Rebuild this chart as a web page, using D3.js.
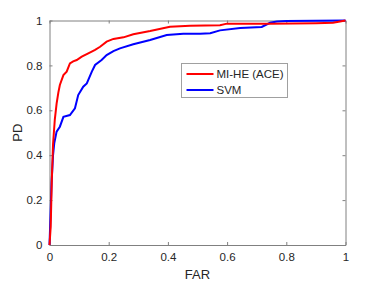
<!DOCTYPE html>
<html>
<head>
  <meta charset="utf-8">
  <script src="https://d3js.org/d3.v7.min.js"></script>
  <style>
    body { margin: 0; background: #fff; }
    text { font-family: "Liberation Sans", Arial, sans-serif; fill: #262626; }
  </style>
</head>
<body>
<script>
// ROC curves: [FAR, PD]
var miheFar = [0, 0.004, 0.008, 0.012, 0.018, 0.024, 0.030, 0.035, 0.047, 0.058, 0.069, 0.080, 0.092, 0.109, 0.131, 0.154, 0.171, 0.193, 0.216, 0.250, 0.283, 0.340, 0.407, 0.475, 0.576, 0.599, 0.745, 0.900, 0.958, 1];
var mihePd  = [0, 0.08, 0.30, 0.45, 0.56, 0.63, 0.68, 0.713, 0.757, 0.772, 0.809, 0.818, 0.824, 0.839, 0.854, 0.869, 0.883, 0.906, 0.918, 0.925, 0.939, 0.953, 0.972, 0.977, 0.979, 0.986, 0.986, 0.988, 0.990, 1];
var svmFar  = [0, 0.007, 0.012, 0.016, 0.024, 0.035, 0.047, 0.069, 0.086, 0.097, 0.114, 0.126, 0.143, 0.154, 0.176, 0.193, 0.216, 0.238, 0.283, 0.340, 0.396, 0.452, 0.509, 0.543, 0.576, 0.644, 0.717, 0.745, 0.768, 0.800, 1];
var svmPd   = [0, 0.275, 0.40, 0.453, 0.505, 0.527, 0.571, 0.579, 0.609, 0.668, 0.705, 0.720, 0.772, 0.802, 0.824, 0.846, 0.864, 0.876, 0.894, 0.913, 0.935, 0.941, 0.941, 0.943, 0.956, 0.967, 0.971, 0.990, 0.996, 0.998, 1];
var ticks = [0, 0.2, 0.4, 0.6, 0.8, 1];
var seriesNames = ["MI-HE (ACE)", "SVM"];
var seriesColors = ["#ff0000", "#0000ff"];

var W = 382, H = 288;
var pLeft = 49.5, pRight = 345.5, pTop = 20.5, pBottom = 245;

var svg = d3.select("body").append("svg")
  .attr("width", W).attr("height", H);

var x = d3.scaleLinear().domain([0, 1]).range([pLeft, pRight]);
var y = d3.scaleLinear().domain([0, 1]).range([pBottom, pTop]);

var axisColor = "#808080";

// axes box (MATLAB style, ticks inward on all sides)
var xb = svg.append("g").attr("transform", "translate(0," + pBottom + ")")
  .call(d3.axisBottom(x).tickValues(ticks).tickSizeInner(-3).tickSizeOuter(0).tickPadding(8).tickFormat(d3.format("~g")));
var xt = svg.append("g").attr("transform", "translate(0," + pTop + ")")
  .call(d3.axisTop(x).tickValues(ticks).tickSizeInner(-3).tickSizeOuter(0).tickFormat(""));
var yl = svg.append("g").attr("transform", "translate(" + pLeft + ",0)")
  .call(d3.axisLeft(y).tickValues(ticks).tickSizeInner(-3).tickSizeOuter(0).tickPadding(7).tickFormat(d3.format("~g")));
var yr = svg.append("g").attr("transform", "translate(" + pRight + ",0)")
  .call(d3.axisRight(y).tickValues(ticks).tickSizeInner(-3).tickSizeOuter(0).tickFormat(""));

[xb, xt, yl, yr].forEach(function (g) {
  g.selectAll("path, line").attr("stroke", axisColor);
  g.selectAll("text").attr("font-size", 11.5).attr("fill", "#262626")
    .style("font-family", "'Liberation Sans', Arial, sans-serif");
});

var line = d3.line().x(function (d) { return x(d[0]); }).y(function (d) { return y(d[1]); });

function pairs(a, b) { return a.map(function (v, i) { return [v, b[i]]; }); }

svg.append("path").datum(pairs(svmFar, svmPd))
  .attr("fill", "none").attr("stroke", seriesColors[1]).attr("stroke-width", 2).attr("d", line);
svg.append("path").datum(pairs(miheFar, mihePd))
  .attr("fill", "none").attr("stroke", seriesColors[0]).attr("stroke-width", 2).attr("d", line);

// axis labels
svg.append("text").attr("x", (pLeft + pRight) / 2).attr("y", 279)
  .attr("text-anchor", "middle").attr("font-size", 13).text("FAR");
svg.append("text").attr("transform", "translate(22," + ((pTop + pBottom) / 2) + ") rotate(-90)")
  .attr("text-anchor", "middle").attr("font-size", 13).text("PD");

// legend
var lg = svg.append("g");
lg.append("rect").attr("x", 181.5).attr("y", 63.5).attr("width", 106).attr("height", 34)
  .attr("fill", "#fff").attr("stroke", "#a0a0a0").attr("stroke-width", 1);
seriesNames.forEach(function (name, i) {
  var yy = 74 + i * 16;
  lg.append("line").attr("x1", 186.5).attr("x2", 213.5).attr("y1", yy).attr("y2", yy)
    .attr("stroke", seriesColors[i]).attr("stroke-width", 2);
  lg.append("text").attr("x", 216.5).attr("y", yy + 4).attr("font-size", 11.5).text(name);
});
</script>
</body>
</html>
